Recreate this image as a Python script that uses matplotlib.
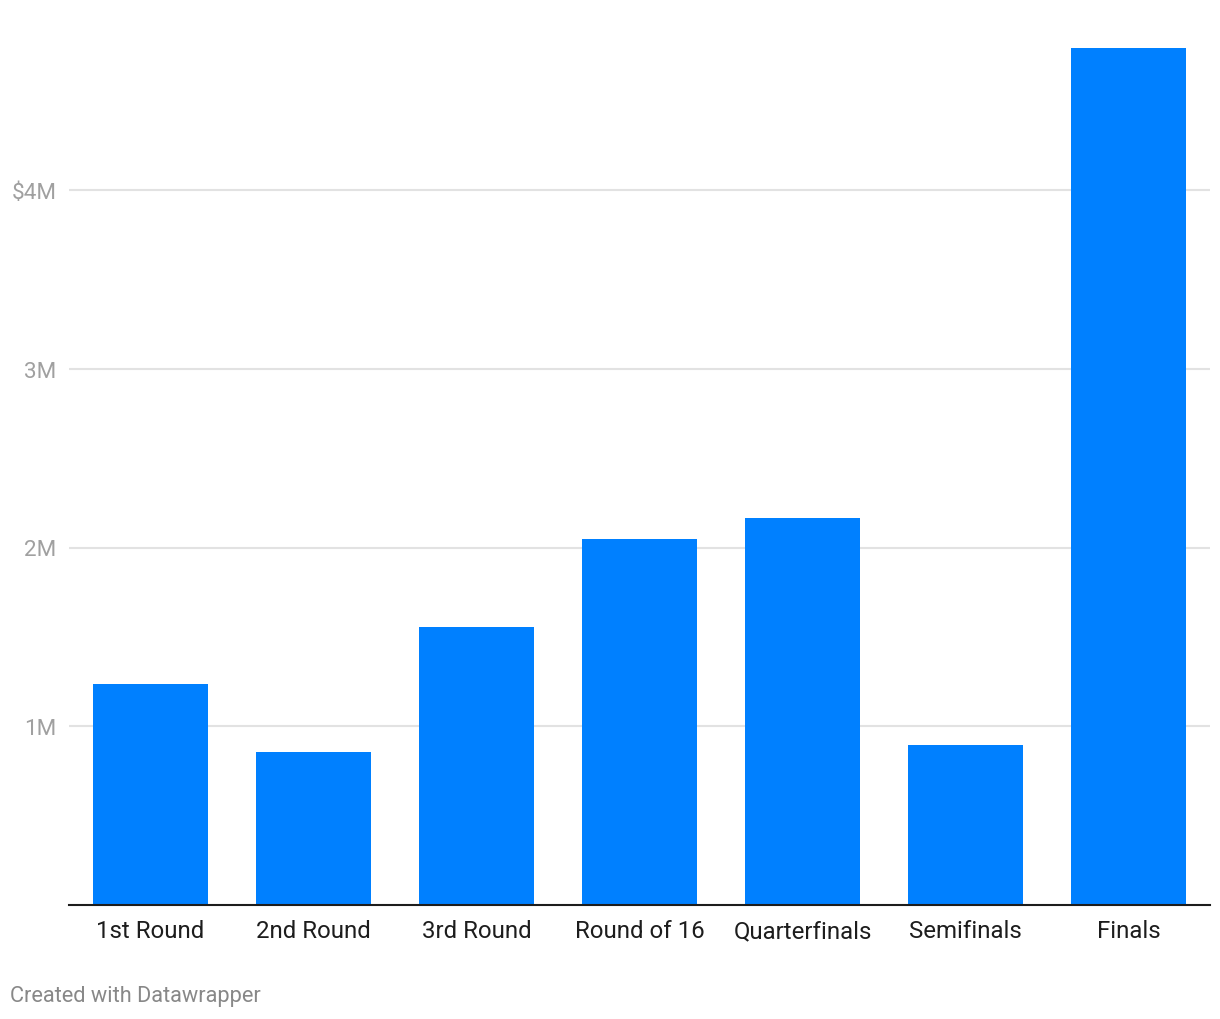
import matplotlib
matplotlib.use('Agg')
import matplotlib.pyplot as plt
import numpy as np

plt.rcParams['font.family'] = ['Roboto', 'DejaVu Sans']

# Données (en millions de dollars)
rounds = ['1st Round', '2nd Round', '3rd Round', 'Round of 16', 'Quarterfinals', 'Semifinals', 'Finals']
values = [1.236, 0.856, 1.555, 2.048, 2.165, 0.895, 4.794]
y_ticks = [1, 2, 3, 4]
y_labels = ['1M', '2M', '3M', '$4M']

fig = plt.figure(figsize=(12.2, 10.2), dpi=100)
# axe : x de 69 à 1210 px, y de 906 (0) vers le haut
ax = fig.add_axes([69 / 1220, 1 - 906 / 1020, 1141 / 1220, 858 / 1020])

x = np.arange(len(rounds))
ax.bar(x, values, width=0.7, color='#0080ff', zorder=2)

ax.set_xlim(-0.5, len(rounds) - 0.5)
ax.set_ylim(0, 4.8)

ax.tick_params(axis='y', length=0, pad=9)
ax.tick_params(axis='x', length=0, pad=23)

ax.set_yticks(y_ticks)
ax.set_yticklabels(y_labels, color='#a0a0a0', fontsize=16.2)
ax.yaxis.grid(True, color='#e2e2e2', linewidth=1.5, zorder=0)

ax.set_xticks(x)
ax.set_xticklabels(rounds, color='#1d1d1d', fontsize=17.3)
for lab in ax.get_xticklabels():
    lab.set_verticalalignment('baseline')

for s in ['top', 'right', 'left']:
    ax.spines[s].set_visible(False)
ax.spines['bottom'].set_color('#1d1d1d')
ax.spines['bottom'].set_linewidth(1.5)
ax.spines['bottom'].set_zorder(3)

fig.text(10 / 1220, 1 - 997 / 1020, 'Created with Datawrapper', color='#888888',
         fontsize=15.7, va='center', ha='left')

plt.savefig('out.png', dpi=100)
